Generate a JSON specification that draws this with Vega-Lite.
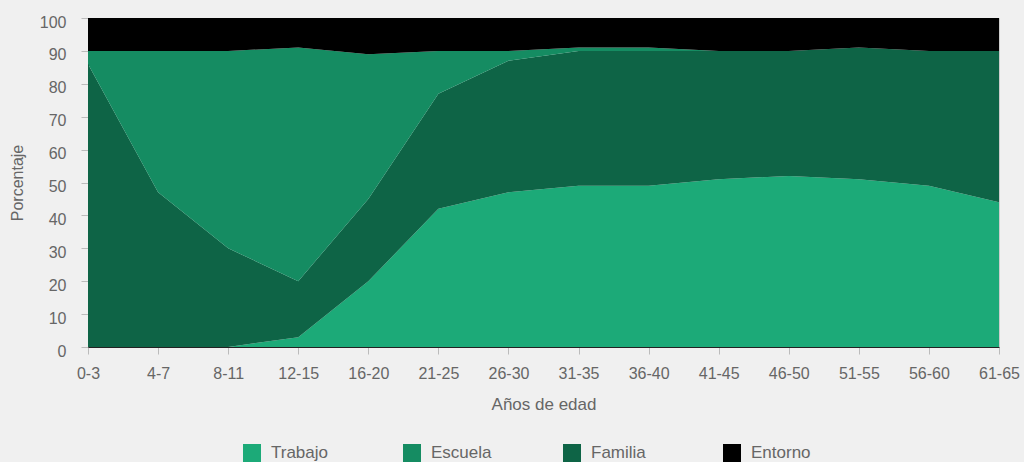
{
  "$schema": "https://vega.github.io/schema/vega-lite/v6.json",
  "width": 911,
  "height": 329,
  "autosize": {"type": "none"},
  "padding": {"left": 88, "top": 18, "right": 25, "bottom": 115},
  "background": "#f0f0f0",
  "config": {
    "font": "Liberation Sans",
    "view": {"stroke": "#cccccc", "strokeWidth": 1},
    "axis": {
      "labelColor": "#666666",
      "titleColor": "#666666",
      "labelFontSize": 16,
      "titleFontSize": 16,
      "titleFontWeight": "normal",
      "tickColor": "#bbbbbb",
      "domainColor": "#222222",
      "grid": false
    }
  },
  "data": {
    "values": [
      {"edad": "0-3", "cat": "Trabajo", "ord": 1, "v": 0},
      {"edad": "4-7", "cat": "Trabajo", "ord": 1, "v": 0},
      {"edad": "8-11", "cat": "Trabajo", "ord": 1, "v": 0},
      {"edad": "12-15", "cat": "Trabajo", "ord": 1, "v": 3},
      {"edad": "16-20", "cat": "Trabajo", "ord": 1, "v": 20},
      {"edad": "21-25", "cat": "Trabajo", "ord": 1, "v": 42},
      {"edad": "26-30", "cat": "Trabajo", "ord": 1, "v": 47},
      {"edad": "31-35", "cat": "Trabajo", "ord": 1, "v": 49},
      {"edad": "36-40", "cat": "Trabajo", "ord": 1, "v": 49},
      {"edad": "41-45", "cat": "Trabajo", "ord": 1, "v": 51},
      {"edad": "46-50", "cat": "Trabajo", "ord": 1, "v": 52},
      {"edad": "51-55", "cat": "Trabajo", "ord": 1, "v": 51},
      {"edad": "56-60", "cat": "Trabajo", "ord": 1, "v": 49},
      {"edad": "61-65", "cat": "Trabajo", "ord": 1, "v": 44},

      {"edad": "0-3", "cat": "Familia", "ord": 2, "v": 86},
      {"edad": "4-7", "cat": "Familia", "ord": 2, "v": 47},
      {"edad": "8-11", "cat": "Familia", "ord": 2, "v": 30},
      {"edad": "12-15", "cat": "Familia", "ord": 2, "v": 17},
      {"edad": "16-20", "cat": "Familia", "ord": 2, "v": 25},
      {"edad": "21-25", "cat": "Familia", "ord": 2, "v": 35},
      {"edad": "26-30", "cat": "Familia", "ord": 2, "v": 40},
      {"edad": "31-35", "cat": "Familia", "ord": 2, "v": 41},
      {"edad": "36-40", "cat": "Familia", "ord": 2, "v": 41},
      {"edad": "41-45", "cat": "Familia", "ord": 2, "v": 39},
      {"edad": "46-50", "cat": "Familia", "ord": 2, "v": 38},
      {"edad": "51-55", "cat": "Familia", "ord": 2, "v": 40},
      {"edad": "56-60", "cat": "Familia", "ord": 2, "v": 41},
      {"edad": "61-65", "cat": "Familia", "ord": 2, "v": 46},

      {"edad": "0-3", "cat": "Escuela", "ord": 3, "v": 4},
      {"edad": "4-7", "cat": "Escuela", "ord": 3, "v": 43},
      {"edad": "8-11", "cat": "Escuela", "ord": 3, "v": 60},
      {"edad": "12-15", "cat": "Escuela", "ord": 3, "v": 71},
      {"edad": "16-20", "cat": "Escuela", "ord": 3, "v": 44},
      {"edad": "21-25", "cat": "Escuela", "ord": 3, "v": 13},
      {"edad": "26-30", "cat": "Escuela", "ord": 3, "v": 3},
      {"edad": "31-35", "cat": "Escuela", "ord": 3, "v": 1},
      {"edad": "36-40", "cat": "Escuela", "ord": 3, "v": 1},
      {"edad": "41-45", "cat": "Escuela", "ord": 3, "v": 0},
      {"edad": "46-50", "cat": "Escuela", "ord": 3, "v": 0},
      {"edad": "51-55", "cat": "Escuela", "ord": 3, "v": 0},
      {"edad": "56-60", "cat": "Escuela", "ord": 3, "v": 0},
      {"edad": "61-65", "cat": "Escuela", "ord": 3, "v": 0},

      {"edad": "0-3", "cat": "Entorno", "ord": 4, "v": 10},
      {"edad": "4-7", "cat": "Entorno", "ord": 4, "v": 10},
      {"edad": "8-11", "cat": "Entorno", "ord": 4, "v": 10},
      {"edad": "12-15", "cat": "Entorno", "ord": 4, "v": 9},
      {"edad": "16-20", "cat": "Entorno", "ord": 4, "v": 11},
      {"edad": "21-25", "cat": "Entorno", "ord": 4, "v": 10},
      {"edad": "26-30", "cat": "Entorno", "ord": 4, "v": 10},
      {"edad": "31-35", "cat": "Entorno", "ord": 4, "v": 9},
      {"edad": "36-40", "cat": "Entorno", "ord": 4, "v": 9},
      {"edad": "41-45", "cat": "Entorno", "ord": 4, "v": 10},
      {"edad": "46-50", "cat": "Entorno", "ord": 4, "v": 10},
      {"edad": "51-55", "cat": "Entorno", "ord": 4, "v": 9},
      {"edad": "56-60", "cat": "Entorno", "ord": 4, "v": 10},
      {"edad": "61-65", "cat": "Entorno", "ord": 4, "v": 10}
    ]
  },
  "mark": {"type": "area", "interpolate": "linear"},
  "encoding": {
    "x": {
      "field": "edad",
      "type": "ordinal",
      "sort": ["0-3","4-7","8-11","12-15","16-20","21-25","26-30","31-35","36-40","41-45","46-50","51-55","56-60","61-65"],
      "scale": {"type": "point", "padding": 0},
      "axis": {"title": "Años de edad", "titleFontSize": 17, "labelAngle": 0, "tickSize": 7, "labelPadding": 11, "titlePadding": 15}
    },
    "y": {
      "field": "v",
      "type": "quantitative",
      "stack": "zero",
      "scale": {"domain": [0, 100], "nice": false},
      "axis": {"title": "Porcentaje", "values": [0,10,20,30,40,50,60,70,80,90,100], "tickSize": 7, "labelPadding": 15, "labelOffset": 4, "titlePadding": 14}
    },
    "order": {"field": "ord", "type": "quantitative", "sort": "ascending"},
    "color": {
      "field": "cat",
      "type": "nominal",
      "scale": {
        "domain": ["Trabajo", "Escuela", "Familia", "Entorno"],
        "range": ["#1caa78", "#158c62", "#0e6446", "#000000"]
      },
      "legend": {
        "title": null,
        "orient": "none",
        "legendX": 155,
        "legendY": 426,
        "direction": "horizontal",
        "columns": 4,
        "gridAlign": "all",
        "columnPadding": 71,
        "symbolType": "square",
        "symbolSize": 324,
        "symbolStrokeWidth": 0,
        "symbolOpacity": 1,
        "labelFontSize": 17,
        "labelColor": "#666666",
        "labelOffset": 10
      }
    }
  }
}
